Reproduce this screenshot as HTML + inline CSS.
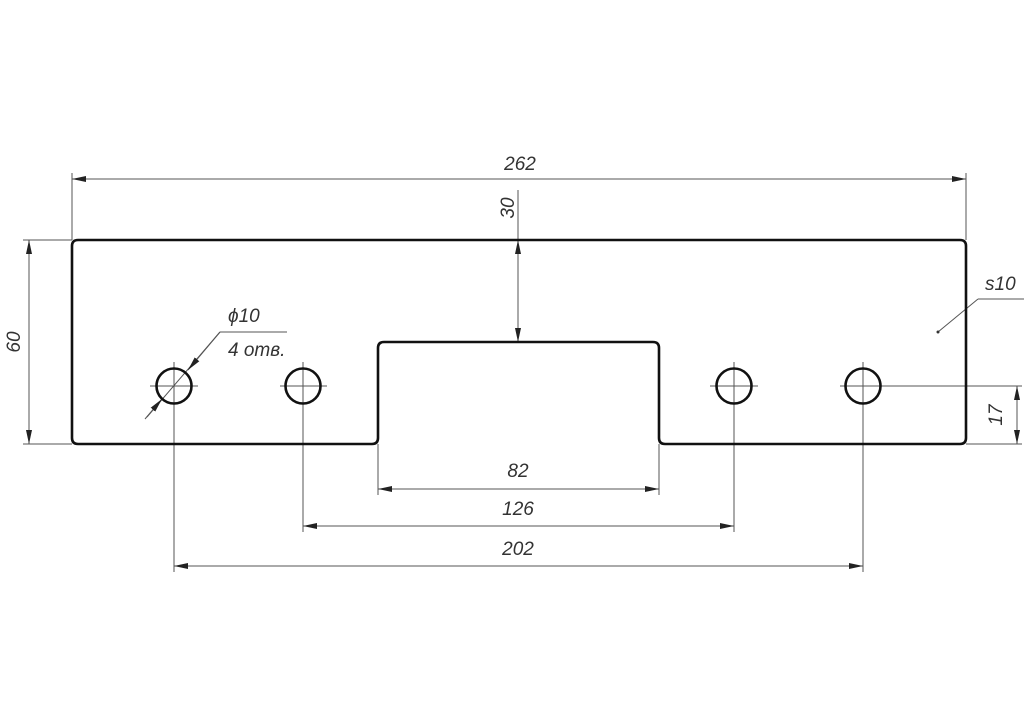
<!DOCTYPE html>
<html><head><meta charset="utf-8"><style>html,body{margin:0;padding:0;background:#fff}svg{display:block}text{font-family:"Liberation Sans",sans-serif;font-style:italic;fill:#333;font-size:19px}</style></head>
<body>
<svg width="1024" height="724" viewBox="0 0 1024 724" xmlns="http://www.w3.org/2000/svg">
<defs><marker id="a" viewBox="0 0 14 6" refX="14" refY="3" markerWidth="14" markerHeight="6" orient="auto-start-reverse" markerUnits="userSpaceOnUse"><path d="M0,0L14,3L0,6z" fill="#222"/></marker></defs>
<g stroke="#555" stroke-width="1" fill="none">
<line x1="72" y1="173" x2="72" y2="240"/><line x1="966" y1="173" x2="966" y2="240"/>
<line x1="72" y1="179" x2="966" y2="179" marker-start="url(#a)" marker-end="url(#a)"/>
<line x1="23" y1="240" x2="72" y2="240"/><line x1="23" y1="444" x2="72" y2="444"/>
<line x1="29" y1="240" x2="29" y2="444" marker-start="url(#a)" marker-end="url(#a)"/>
<line x1="518" y1="190" x2="518" y2="240"/>
<line x1="518" y1="240" x2="518" y2="342" marker-start="url(#a)" marker-end="url(#a)"/>
<line x1="880" y1="386" x2="1022" y2="386"/><line x1="966" y1="444" x2="1022" y2="444"/>
<line x1="1017" y1="386" x2="1017" y2="444" marker-start="url(#a)" marker-end="url(#a)"/>
<line x1="378" y1="444" x2="378" y2="495"/><line x1="659" y1="444" x2="659" y2="495"/>
<line x1="303" y1="362" x2="303" y2="532"/><line x1="734" y1="362" x2="734" y2="532"/>
<line x1="174" y1="362" x2="174" y2="572"/><line x1="863" y1="362" x2="863" y2="572"/>
<line x1="378" y1="489" x2="659" y2="489" marker-start="url(#a)" marker-end="url(#a)"/>
<line x1="303" y1="526" x2="734" y2="526" marker-start="url(#a)" marker-end="url(#a)"/>
<line x1="174" y1="566" x2="863" y2="566" marker-start="url(#a)" marker-end="url(#a)"/>
<line x1="150" y1="386" x2="198" y2="386"/><line x1="280" y1="386" x2="327" y2="386"/>
<line x1="710" y1="386" x2="758" y2="386"/><line x1="840" y1="386" x2="880" y2="386"/>
<line x1="147" y1="417" x2="220" y2="332"/>
<line x1="145" y1="419" x2="162" y2="399" marker-end="url(#a)"/>
<line x1="220" y1="332" x2="188" y2="370" marker-end="url(#a)"/>
<line x1="220" y1="332" x2="287" y2="332"/>
<line x1="938" y1="332" x2="978" y2="299"/><line x1="978" y1="299" x2="1024" y2="299"/>
</g>
<circle cx="938" cy="332" r="1.5" fill="#333"/>
<g stroke="#111" stroke-width="2.6" fill="none">
<path d="M78,240H960Q966,240 966,246V438Q966,444 960,444H665Q659,444 659,438V348Q659,342 653,342H384Q378,342 378,348V438Q378,444 372,444H78Q72,444 72,438V246Q72,240 78,240Z"/>
<circle cx="174" cy="386" r="17.5"/><circle cx="303" cy="386" r="17.5"/>
<circle cx="734" cy="386" r="17.5"/><circle cx="863" cy="386" r="17.5"/>
</g>
<text x="520" y="170" text-anchor="middle">262</text>
<text transform="translate(20,342) rotate(-90)" text-anchor="middle">60</text>
<text transform="translate(514,208) rotate(-90)" text-anchor="middle">30</text>
<text transform="translate(1002,415) rotate(-90)" text-anchor="middle">17</text>
<text x="518" y="477" text-anchor="middle">82</text>
<text x="518" y="515" text-anchor="middle">126</text>
<text x="518" y="555" text-anchor="middle">202</text>
<text x="228" y="322">ϕ10</text>
<text x="228" y="356">4 отв.</text>
<text x="985" y="290">s10</text>
</svg>
</body></html>
